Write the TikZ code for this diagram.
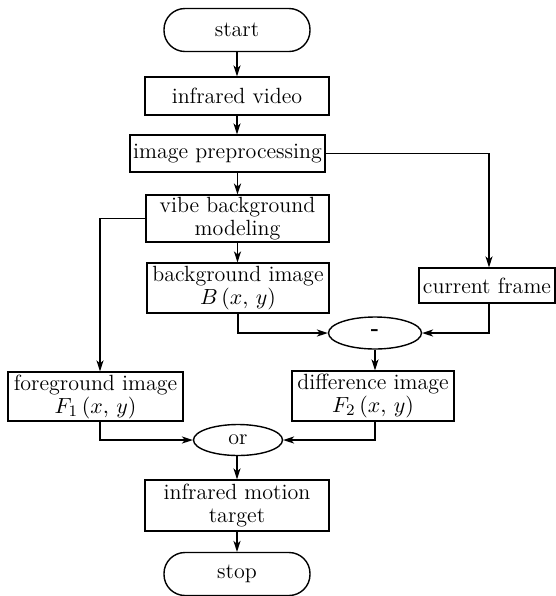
\documentclass[tikz,border=0pt]{standalone}
\usetikzlibrary{arrows.meta,shapes.geometric,positioning}
\begin{document}
\begin{tikzpicture}[x=0.5pt, y=-0.5pt, line width=0.7pt,
    >={Stealth[length=5.5pt,width=3.6pt,inset=1.6pt]},
    every node/.style = {font=\fontsize{11}{11.5}\selectfont, align=center, inner sep=1pt},
    term/.style = {draw, rounded corners=10.5pt, minimum width=73pt, minimum height=21.5pt},
    box/.style = {draw, rectangle},
    oval/.style = {draw, ellipse, inner sep=0pt}]
    \useasboundingbox (0,0) rectangle (556,596);
    \node[term] (start) at (237,30) {start};
    \node[box, minimum width=92pt, minimum height=19pt] (video) at (237,96) {infrared video};
    \node[box, minimum width=97.5pt, minimum height=18.5pt] (pre) at (227.5,153.5) {image preprocessing};
    \node[box, minimum width=91.5pt, minimum height=21.5pt] (vibe) at (237.5,218.5) {vibe background\\modeling};
    \node[box, minimum width=91pt, minimum height=25pt] (bg) at (238,288) {background image\\$B\,(x,\,y)$};
    \node[box, minimum width=68pt, minimum height=17.5pt] (cur) at (487,285.5) {current frame};
    \node[oval, minimum width=46.5pt, minimum height=16pt] (minus) at (375,333) {\textbf{-}};
    \node[box, minimum width=87.5pt, minimum height=24.5pt] (fg) at (95.5,396.5) {foreground image\\$F_1\,(x,\,y)$};
    \node[box, minimum width=81pt, minimum height=25pt] (diff) at (373,396) {difference image\\$F_2\,(x,\,y)$};
    \node[oval, minimum width=44.5pt, minimum height=15.5pt] (or) at (238,440) {or};
    \node[box, minimum width=92pt, minimum height=25.5pt] (target) at (237,505.5) {infrared motion\\target};
    \node[term] (stop) at (237,574) {stop};
    \draw[->] (start) -- (video);
    \draw[->] (video) -- (video.south |- pre.north);
    \draw[->] (vibe.north |- pre.south) -- (vibe);
    \draw[->] (pre.east) -| ([xshift=1pt]cur.north);
    \draw[->] (vibe) -- (vibe.south |- bg.north);
    \draw[->] (vibe.west) -| ([xshift=2.25pt]fg.north);
    \draw[->] (bg.south) |- (minus.west);
    \draw[->] ([xshift=1pt]cur.south) |- (minus.east);
    \draw[->] (minus) -- (minus.south |- diff.north);
    \draw[->] ([xshift=2.25pt]fg.south) |- (or.west);
    \draw[->] ([xshift=1pt]diff.south) |- (or.east);
    \draw[->] (or.south -| target) -- (target);
    \draw[->] (target) -- (stop);
\end{tikzpicture}
\end{document}
